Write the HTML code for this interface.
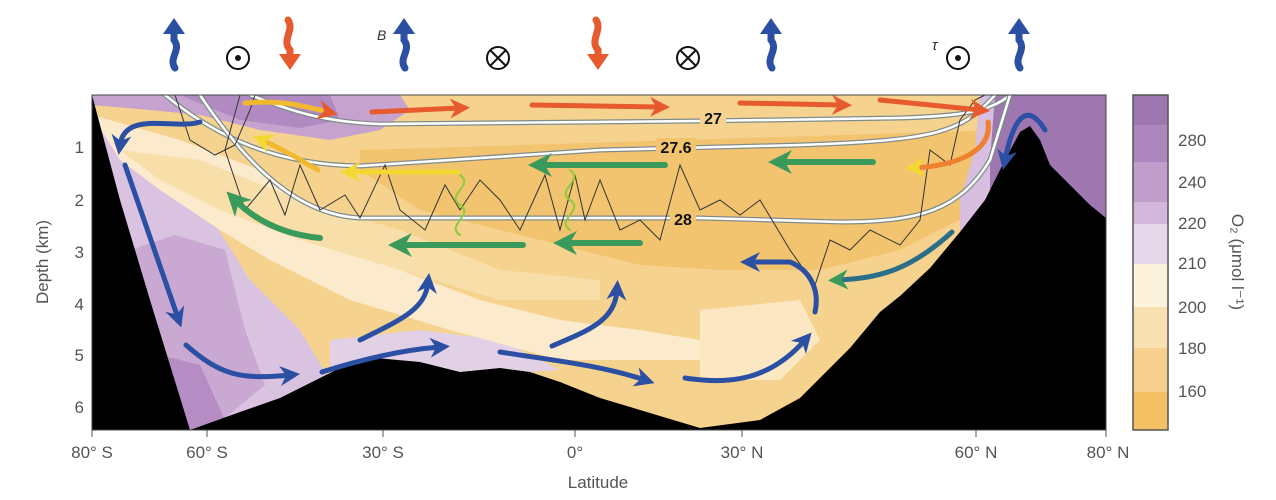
<!DOCTYPE html>
<html><head><meta charset="utf-8"><style>
html,body{margin:0;padding:0;background:#fff;}
svg{display:block;}
text{font-family:"Liberation Sans",sans-serif;}
</style></head><body>
<svg width="1276" height="500" viewBox="0 0 1276 500" xmlns="http://www.w3.org/2000/svg">
<defs>
<clipPath id="pc"><rect x="92" y="95" width="1014" height="335"/></clipPath>
<marker id="ab" viewBox="0 0 10 10" refX="5" refY="5" markerWidth="4" markerHeight="4" orient="auto"><path d="M0,0 L10,5 L0,10 L3,5z" fill="#2b4fa3"/></marker>
<marker id="ag" viewBox="0 0 10 10" refX="5" refY="5" markerWidth="4" markerHeight="4" orient="auto"><path d="M0,0 L10,5 L0,10 L3,5z" fill="#3a9a5c"/></marker>
<marker id="ar" viewBox="0 0 10 10" refX="5" refY="5" markerWidth="4" markerHeight="4" orient="auto"><path d="M0,0 L10,5 L0,10 L3,5z" fill="#e65a2e"/></marker>
<marker id="ay" viewBox="0 0 10 10" refX="5" refY="5" markerWidth="4" markerHeight="4" orient="auto"><path d="M0,0 L10,5 L0,10 L3,5z" fill="#f2d830"/></marker>
</defs>
<g clip-path="url(#pc)">
<rect x="92" y="95" width="1014" height="335" fill="#f6d28f"/>
<!-- purple deep south -->
<path d="M92,95 L92,430 L330,430 L330,380 L300,330 L250,280 L200,200 L150,150 L92,120z" fill="#d9c3e0"/>
<path d="M130,250 L175,235 L225,250 L245,330 L265,385 L210,430 L120,430z" fill="#c9a8d2"/>
<path d="M140,350 L200,365 L225,420 L200,430 L150,430z" fill="#b58cc3"/>
<path d="M330,340 L420,330 L500,340 L560,370 L380,380 L330,380z" fill="#e2d0e6"/>
<!-- cream bands -->
<path d="M92,115 L180,140 L260,170 L330,220 L400,270 L480,300 L560,320 L640,330 L700,340 L700,360 L560,360 L450,330 L350,300 L270,260 L220,230 L160,190 L120,160z" fill="#fbebcc"/>
<path d="M120,150 L200,160 L300,200 L400,230 L500,270 L600,280 L600,300 L500,300 L400,270 L300,240 L220,210 L160,180z" fill="#f8dea8"/>
<!-- orange core -->
<path d="M360,150 L1000,130 L980,210 L900,250 L820,270 L720,270 L640,265 L560,245 L480,225 L420,210 L360,170z" fill="#f3c470"/>
<path d="M700,310 L800,300 L820,340 L780,380 L700,380z" fill="#fbe7c2"/>
<!-- top purple south -->
<path d="M92,95 L400,95 L410,110 L380,130 L330,140 L260,130 L200,115 L150,110 L92,105z" fill="#c6a3cf"/>
<path d="M180,95 L330,95 L340,120 L300,128 L240,120z" fill="#b08ac0"/>
<!-- north purple -->
<path d="M980,95 L1106,95 L1106,430 L960,430 L960,200 L975,150z" fill="#d8bfe0"/>
<path d="M995,95 L1106,95 L1106,430 L990,430 L990,160z" fill="#9e76b0"/>
<!-- isopycnals -->
<g fill="none" stroke-linecap="round">
<path d="M250,95 C290,110 320,122 380,124 L700,121 L900,118 C960,116 990,112 1010,95" stroke="#7f8c8c" stroke-width="5"/>
<path d="M250,95 C290,110 320,122 380,124 L700,121 L900,118 C960,116 990,112 1010,95" stroke="#fff" stroke-width="2.5"/>
<path d="M165,95 C220,140 280,165 360,166 L600,150 L800,145 C930,140 960,135 995,95" stroke="#7f8c8c" stroke-width="5"/>
<path d="M165,95 C220,140 280,165 360,166 L600,150 L800,145 C930,140 960,135 995,95" stroke="#fff" stroke-width="2.5"/>
<path d="M200,95 C250,170 300,215 360,218 L700,218 L840,222 C920,222 960,210 990,160 L1010,95" stroke="#7f8c8c" stroke-width="5"/>
<path d="M200,95 C250,170 300,215 360,218 L700,218 L840,222 C920,222 960,210 990,160 L1010,95" stroke="#fff" stroke-width="2.5"/>
</g>
<rect x="700" y="108" width="26" height="18" fill="#f6d28f"/>
<text x="713" y="124" font-size="16" font-weight="bold" text-anchor="middle" fill="#111">27</text>
<rect x="656" y="138" width="40" height="18" fill="#f3c470"/>
<text x="676" y="153" font-size="16" font-weight="bold" text-anchor="middle" fill="#111">27.6</text>
<rect x="670" y="210" width="26" height="18" fill="#f3c470"/>
<text x="683" y="225" font-size="16" font-weight="bold" text-anchor="middle" fill="#111">28</text>
<!-- thin zigzag line -->
<polyline fill="none" stroke="#333" stroke-width="1" points="240,95 225,150 245,210 270,180 285,215 300,165 320,210 345,195 360,218 385,165 400,210 425,230 445,185 460,210 480,180 500,200 520,230 545,175 560,230 575,175 585,220 600,180 620,230 640,220 660,240 680,165 700,210 720,200 740,215 760,200 790,250 815,285 830,240 850,250 870,230 900,245 920,220 930,150 950,165 960,120 975,100 985,95"/>
<polyline fill="none" stroke="#333" stroke-width="1" points="175,95 190,140 215,155 235,145 250,110 255,95"/>
<!-- bathymetry -->
<path d="M92,95 L120,200 L150,300 L190,430 L92,430 Z" fill="#000"/>
<path d="M190,430 L240,412 L280,398 L340,368 L375,358 L420,362 L460,372 L500,368 L530,372 L560,382 L600,398 L640,410 L700,428 L760,420 L800,398 L850,348 L880,312 L900,296 L930,268 L960,232 L985,200 L1005,160 L1020,132 L1030,126 L1040,140 L1050,165 L1070,185 L1090,205 L1106,218 L1106,430 Z" fill="#000"/>
<!-- arrows -->
<g fill="none" stroke-linecap="round">
<path d="M200,122 C175,130 125,110 120,145" stroke="#2b4fa3" stroke-width="5" marker-end="url(#ab)"/>
<path d="M125,165 L178,318" stroke="#2b4fa3" stroke-width="5" marker-end="url(#ab)"/>
<path d="M186,345 C220,375 240,380 290,375" stroke="#2b4fa3" stroke-width="5" marker-end="url(#ab)"/>
<path d="M322,372 C360,360 400,350 440,347" stroke="#2b4fa3" stroke-width="5" marker-end="url(#ab)"/>
<path d="M360,340 C400,320 425,310 428,283" stroke="#2b4fa3" stroke-width="5" marker-end="url(#ab)"/>
<path d="M500,352 C550,360 600,365 645,380" stroke="#2b4fa3" stroke-width="5" marker-end="url(#ab)"/>
<path d="M552,346 C590,330 615,320 617,290" stroke="#2b4fa3" stroke-width="5" marker-end="url(#ab)"/>
<path d="M685,378 C730,385 770,380 805,340" stroke="#2b4fa3" stroke-width="5" marker-end="url(#ab)"/>
<path d="M815,312 C820,290 810,270 790,262 L750,262" stroke="#2b4fa3" stroke-width="5" marker-end="url(#ab)"/>
<path d="M1045,130 C1030,105 1015,110 1005,160" stroke="#2b4fa3" stroke-width="5" marker-end="url(#ab)"/>
<path d="M952,232 C910,270 880,278 838,280" stroke="#2b6e8a" stroke-width="5" marker-end="url(#ag)"/>
<path d="M320,238 C290,235 260,225 235,200" stroke="#3a9a5c" stroke-width="6" marker-end="url(#ag)"/>
<path d="M523,245 L400,245" stroke="#3a9a5c" stroke-width="6" marker-end="url(#ag)"/>
<path d="M640,243 L565,243" stroke="#3a9a5c" stroke-width="6" marker-end="url(#ag)"/>
<path d="M665,165 L540,165" stroke="#3a9a5c" stroke-width="6" marker-end="url(#ag)"/>
<path d="M873,162 L780,162" stroke="#3a9a5c" stroke-width="6" marker-end="url(#ag)"/>
<path d="M458,172 L350,172" stroke="#f2d830" stroke-width="5" marker-end="url(#ay)"/>
<path d="M318,170 C300,160 285,150 262,140" stroke="#f2b830" stroke-width="5" marker-end="url(#ay)"/>
<path d="M988,122 C992,150 960,165 915,168" stroke="#ef8030" stroke-width="5" marker-end="url(#ay)"/>
<path d="M245,103 C280,100 300,105 328,112" stroke="#f2b830" stroke-width="5" marker-end="url(#ar)"/>
<path d="M372,112 L460,108" stroke="#e65a2e" stroke-width="5" marker-end="url(#ar)"/>
<path d="M532,105 L660,107" stroke="#e65a2e" stroke-width="5" marker-end="url(#ar)"/>
<path d="M740,103 L842,105" stroke="#e65a2e" stroke-width="5" marker-end="url(#ar)"/>
<path d="M880,100 L980,110" stroke="#e65a2e" stroke-width="5" marker-end="url(#ar)"/>
<path d="M460,175 C475,185 445,195 460,205 C475,215 445,225 460,235" stroke="#8acc3a" stroke-width="2"/>
<path d="M570,170 C585,180 555,190 570,200 C585,210 555,220 570,230" stroke="#8acc3a" stroke-width="2"/>
</g>
</g>
<rect x="92" y="95" width="1014" height="335" fill="none" stroke="#444" stroke-width="1"/>
<!-- colorbar -->
<rect x="1133" y="95" width="35" height="30" fill="#9e76b0"/>
<rect x="1133" y="125" width="35" height="37" fill="#ac86bd"/>
<rect x="1133" y="162" width="35" height="40" fill="#c09dcb"/>
<rect x="1133" y="202" width="35" height="22" fill="#d2b6dc"/>
<rect x="1133" y="224" width="35" height="40" fill="#e6d6ea"/>
<rect x="1133" y="264" width="35" height="43" fill="#fdf2dc"/>
<rect x="1133" y="307" width="35" height="41" fill="#f9e0b0"/>
<rect x="1133" y="348" width="35" height="44" fill="#f6d08c"/>
<rect x="1133" y="392" width="35" height="38" fill="#f3c163"/>
<rect x="1133" y="95" width="35" height="335" fill="none" stroke="#555" stroke-width="1.5"/>
<g font-size="17" fill="#555">
<text x="1178" y="146">280</text><text x="1178" y="188">240</text><text x="1178" y="229">220</text>
<text x="1178" y="269">210</text><text x="1178" y="313">200</text><text x="1178" y="354">180</text><text x="1178" y="397">160</text>
</g>
<text transform="translate(1232,262) rotate(90)" font-size="17" fill="#555" text-anchor="middle">O₂ (μmol l⁻¹)</text>
<!-- axes labels -->
<g font-size="17" fill="#555" text-anchor="end">
<text x="84" y="153">1</text><text x="84" y="206">2</text><text x="84" y="258">3</text>
<text x="84" y="310">4</text><text x="84" y="361">5</text><text x="84" y="413">6</text>
</g>
<text transform="translate(48,262) rotate(-90)" font-size="17" fill="#555" text-anchor="middle">Depth (km)</text>
<g stroke="#555"><line x1="92" y1="430" x2="92" y2="437"/><line x1="207" y1="430" x2="207" y2="437"/><line x1="383" y1="430" x2="383" y2="437"/><line x1="575" y1="430" x2="575" y2="437"/><line x1="742" y1="430" x2="742" y2="437"/><line x1="976" y1="430" x2="976" y2="437"/><line x1="1106" y1="430" x2="1106" y2="437"/></g>
<g font-size="17" fill="#555" text-anchor="middle">
<text x="92" y="458">80° S</text><text x="207" y="458">60° S</text><text x="383" y="458">30° S</text>
<text x="575" y="458">0°</text><text x="742" y="458">30° N</text><text x="976" y="458">60° N</text><text x="1108" y="458">80° N</text>
<text x="598" y="488">Latitude</text>
</g>
<!-- top symbols -->
<g fill="none" stroke-width="7" stroke-linecap="round">
<path d="M175,68 C168,58 182,50 174,40 L174,30" stroke="#2b4fa3"/>
<path d="M405,68 C398,58 412,50 404,40 L404,30" stroke="#2b4fa3"/>
<path d="M772,68 C765,58 779,50 771,40 L771,30" stroke="#2b4fa3"/>
<path d="M1020,68 C1013,58 1027,50 1019,40 L1019,30" stroke="#2b4fa3"/>
<path d="M288,20 C295,30 281,40 290,50 L290,58" stroke="#e65a2e"/>
<path d="M596,20 C603,30 589,40 598,50 L598,58" stroke="#e65a2e"/>
</g>
<g>
<path d="M163,34 L174,18 L185,34z" fill="#2b4fa3"/><path d="M393,34 L404,18 L415,34z" fill="#2b4fa3"/>
<path d="M760,34 L771,18 L782,34z" fill="#2b4fa3"/><path d="M1008,34 L1019,18 L1030,34z" fill="#2b4fa3"/>
<path d="M279,54 L290,70 L301,54z" fill="#e65a2e"/><path d="M587,54 L598,70 L609,54z" fill="#e65a2e"/>
</g>
<g fill="none" stroke="#111" stroke-width="2">
<circle cx="238" cy="58" r="11"/><circle cx="958" cy="58" r="11"/>
<circle cx="498" cy="58" r="11"/><circle cx="688" cy="58" r="11"/>
<path d="M490,50 L506,66 M506,50 L490,66 M680,50 L696,66 M696,50 L680,66"/>
</g>
<circle cx="238" cy="58" r="3" fill="#111"/><circle cx="958" cy="58" r="3" fill="#111"/>
<text x="377" y="40" font-size="14" font-style="italic" fill="#333">B</text>
<text x="932" y="50" font-size="15" font-style="italic" fill="#333">τ</text>
</svg>
</body></html>
